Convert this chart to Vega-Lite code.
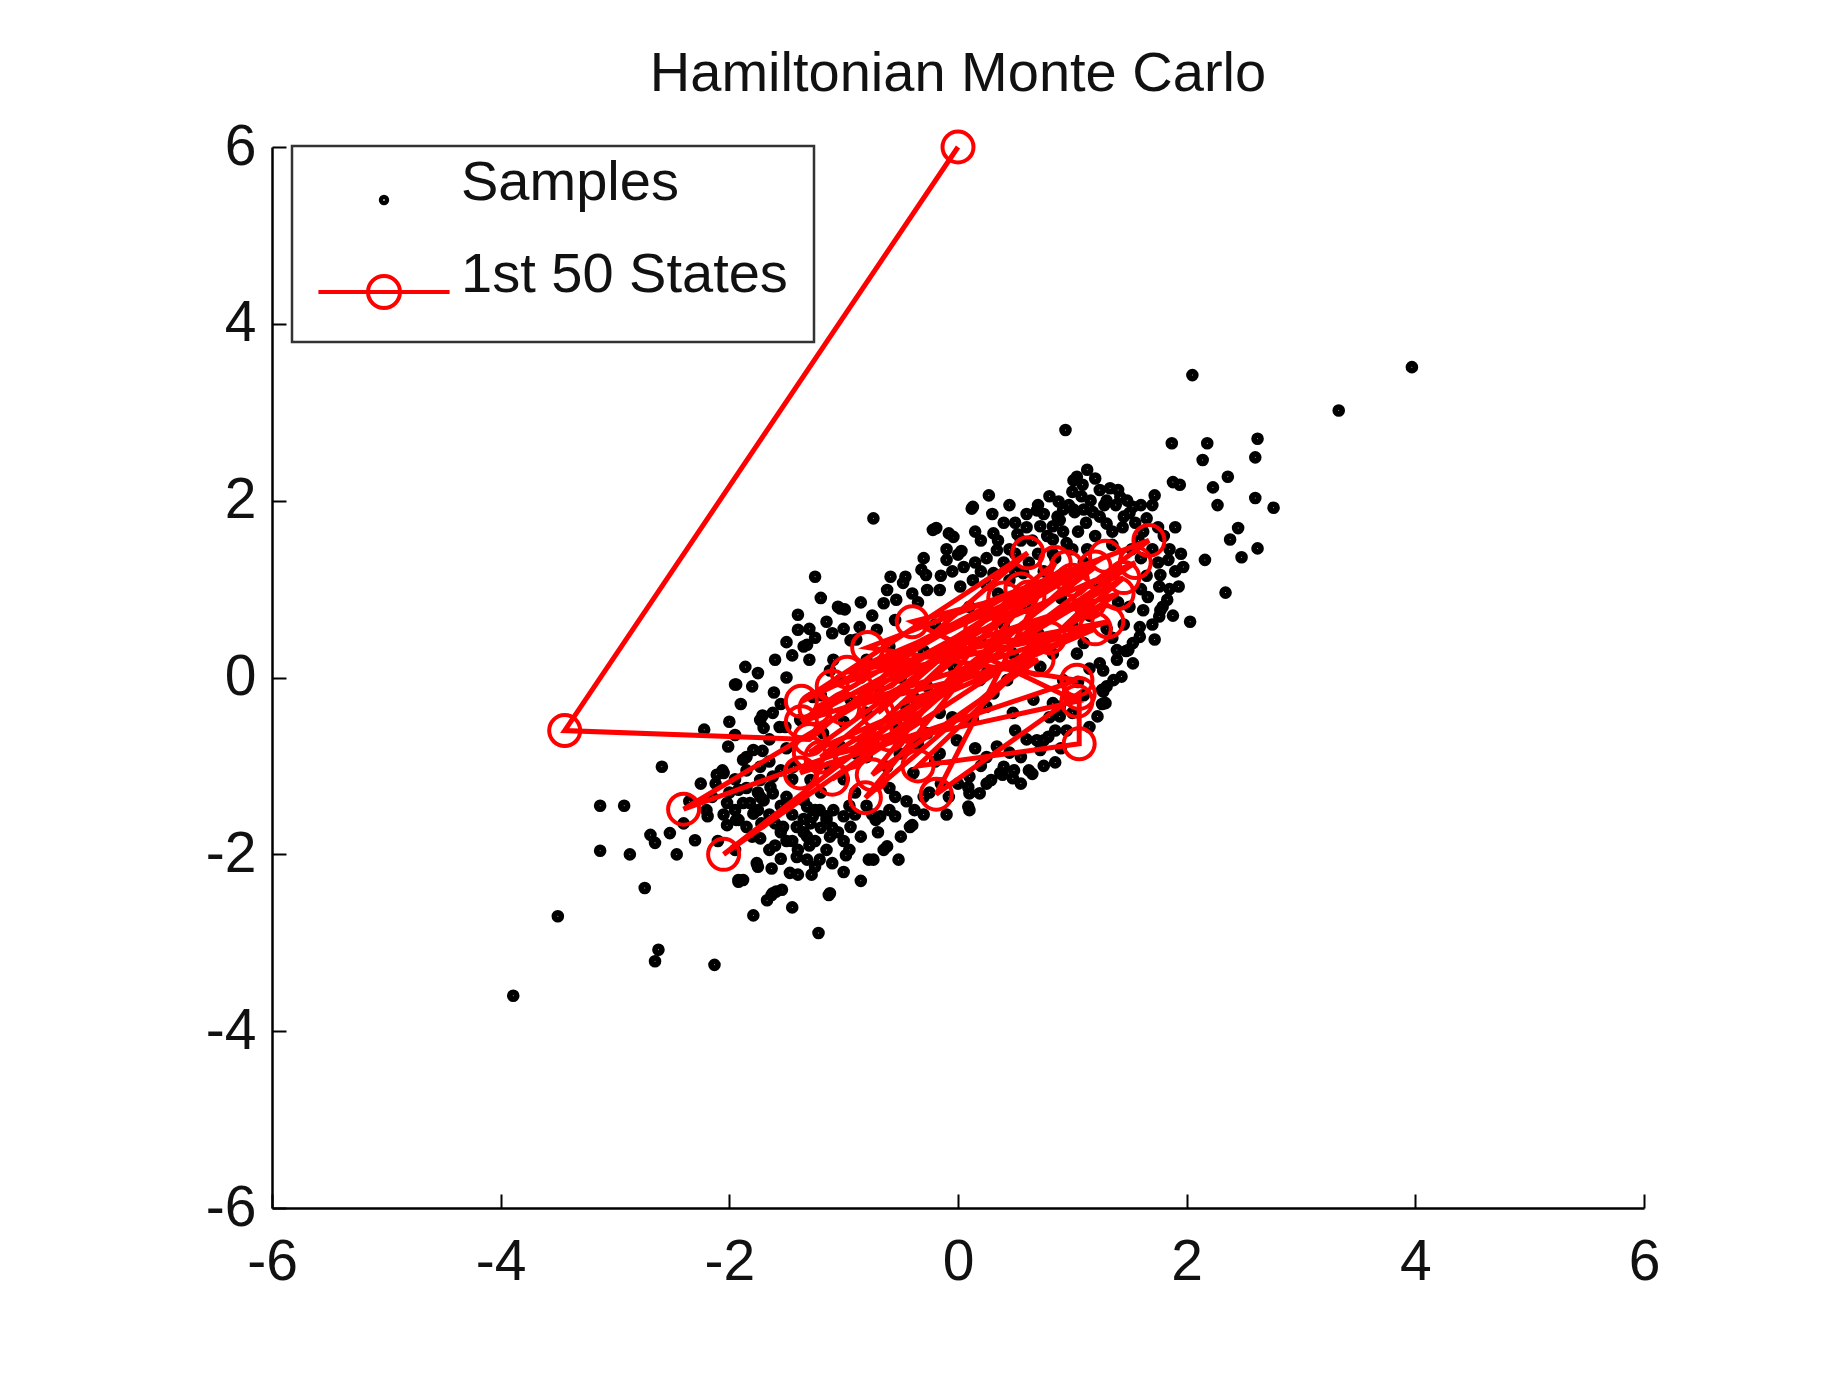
{
  "$schema": "https://vega.github.io/schema/vega-lite/v6.json",
  "width": 1372,
  "height": 1061,
  "autosize": {"type": "none"},
  "padding": {"left": 272, "top": 147, "right": 195, "bottom": 186},
  "background": "#ffffff",
  "title": {
    "text": "Hamiltonian Monte Carlo",
    "font": "Liberation Sans",
    "fontSize": 56,
    "fontWeight": "normal",
    "color": "#111111",
    "anchor": "middle",
    "frame": "group",
    "baseline": "bottom",
    "offset": -41
  },
  "config": {
    "view": {"stroke": null},
    "axis": {
      "grid": false,
      "title": null,
      "domainColor": "#000000",
      "domainWidth": 2.5,
      "tickColor": "#000000",
      "tickWidth": 2,
      "tickSize": -14,
      "labelFont": "Liberation Sans",
      "labelFontSize": 57,
      "labelColor": "#111111",
      "labelFlush": false,
      "labelOverlap": false,
      "labelExpr": "'' + datum.value"
    },
    "legend": {"strokeWidth": 2.5}
  },
  "datasets": {
    "samples": [
      {"x":-3.89,"y":-3.6},{"x":-3.5,"y":-2.7},{"x":-3.13,"y":-1.45},{"x":-2.92,"y":-1.45},{"x":-3.13,"y":-1.96},
      {"x":-2.87,"y":-2.0},{"x":-2.74,"y":-2.38},{"x":-2.62,"y":-3.08},{"x":-2.65,"y":-3.21},{"x":-2.13,"y":-3.25},
      {"x":-1.22,"y":-2.89},{"x":-1.13,"y":-2.46},{"x":-1.79,"y":-2.69},{"x":-2.59,"y":-1.01},{"x":-2.22,"y":-0.59},
      {"x":-1.95,"y":-0.08},{"x":-1.86,"y":0.12},{"x":-1.4,"y":0.71},{"x":-1.4,"y":0.54},{"x":-1.32,"y":0.37},
      {"x":-1.25,"y":1.14},{"x":-1.03,"y":0.78},{"x":-0.74,"y":1.8},{"x":-0.19,"y":1.69},{"x":-0.04,"y":1.59},
      {"x":0.12,"y":1.91},{"x":0.27,"y":2.06},{"x":0.31,"y":1.63},{"x":0.34,"y":1.44},{"x":-0.1,"y":1.33},
      {"x":0.0,"y":1.39},{"x":-0.32,"y":1.22},{"x":-0.46,"y":1.14},{"x":-0.59,"y":1.14},{"x":0.94,"y":2.8},
      {"x":2.05,"y":3.42},{"x":3.33,"y":3.02},{"x":3.97,"y":3.51},{"x":1.87,"y":2.65},{"x":2.18,"y":2.65},
      {"x":2.62,"y":2.7},{"x":2.14,"y":2.46},{"x":2.6,"y":2.49},{"x":1.88,"y":2.21},{"x":1.94,"y":2.18},
      {"x":2.36,"y":2.27},{"x":2.23,"y":2.15},{"x":1.72,"y":2.06},{"x":2.27,"y":1.95},{"x":2.6,"y":2.03},
      {"x":2.76,"y":1.92},{"x":2.45,"y":1.69},{"x":2.38,"y":1.56},{"x":2.62,"y":1.46},{"x":2.48,"y":1.36},
      {"x":2.16,"y":1.33},{"x":1.97,"y":1.25},{"x":1.84,"y":1.33},{"x":2.34,"y":0.96},{"x":2.03,"y":0.63},
      {"x":1.13,"y":2.35},{"x":1.04,"y":2.27},{"x":1.09,"y":2.18},{"x":1.24,"y":2.12},{"x":1.33,"y":2.14},
      {"x":1.4,"y":2.12},{"x":1.42,"y":2.04},{"x":1.53,"y":1.93},{"x":1.5,"y":1.86},{"x":0.88,"y":1.99},
      {"x":0.6,"y":1.85},{"x":0.69,"y":1.89},{"x":1.02,"y":1.87},{"x":0.87,"y":1.82},{"x":1.18,"y":1.87},
      {"x":1.24,"y":1.82},{"x":1.83,"y":0.88},{"x":1.77,"y":0.76},{"x":1.62,"y":0.76},{"x":1.59,"y":0.57},
      {"x":1.53,"y":0.39},{"x":1.39,"y":0.2},{"x":1.27,"y":0.08},{"x":1.27,"y":-0.16},{"x":1.01,"y":2.23},
      {"x":1.01,"y":1.9},{"x":0.83,"y":1.71},{"x":1.3,"y":1.74},{"x":1.45,"y":1.82},{"x":0.83,"y":1.4},
      {"x":0.95,"y":1.52},{"x":0.75,"y":-0.71},{"x":1.24,"y":0.16},{"x":1.3,"y":-0.1},{"x":1.04,"y":0.27},
      {"x":1.1,"y":0.39},{"x":1.39,"y":0.31},{"x":0.89,"y":-0.44},{"x":0.83,"y":-0.29},{"x":1.76,"y":1.03},
      {"x":1.66,"y":0.91},{"x":1.79,"y":0.8},{"x":1.76,"y":0.69},{"x":1.59,"y":0.46},{"x":1.49,"y":0.31},
      {"x":1.53,"y":0.16},{"x":1.43,"y":0.01},{"x":1.26,"y":-0.14},{"x":1.29,"y":-0.29},{"x":1.22,"y":-0.44},
      {"x":0.79,"y":-0.67},{"x":0.72,"y":-0.82},{"x":0.69,"y":-0.71},{"x":0.62,"y":-1.05},{"x":0.49,"y":-1.05},
      {"x":0.39,"y":-1.1},{"x":0.29,"y":-1.16},{"x":0.09,"y":-1.24},{"x":0.09,"y":-1.46},{"x":-0.08,"y":-1.35},
      {"x":-0.38,"y":-1.5},{"x":-0.42,"y":-1.69},{"x":-0.55,"y":-1.57},{"x":-0.72,"y":-1.61},{"x":-0.52,"y":-2.06},
      {"x":-0.65,"y":-1.95},{"x":-0.78,"y":-2.06},{"x":-0.98,"y":-2.01},{"x":-1.12,"y":-2.44},{"x":-1.62,"y":-2.44},
      {"x":-1.75,"y":-2.14},{"x":-1.92,"y":-2.29},{"x":-1.25,"y":-1.5},{"x":-1.15,"y":-1.57},{"x":-1.29,"y":-1.65},
      {"x":-2.06,"y":-1.05},{"x":-2.12,"y":-1.2},{"x":-1.92,"y":-1.27},{"x":-1.82,"y":-1.42},{"x":-2.02,"y":-1.42},
      {"x":-2.19,"y":-1.57},{"x":-1.92,"y":-1.61},{"x":-1.72,"y":-1.65},{"x":-0.08,"y":1.63},{"x":-0.22,"y":1.67},
      {"x":-1.05,"y":0.8},{"x":-1.35,"y":0.35},{"x":-1.94,"y":-0.08},{"x":0.48,"y":-1.14},{"x":0.37,"y":-1.08},
      {"x":0.1,"y":-1.31},{"x":0.1,"y":-1.5},{"x":-0.4,"y":-1.67},{"x":-0.62,"y":-1.91},{"x":-0.74,"y":-2.06},
      {"x":-0.68,"y":-1.57},{"x":-0.94,"y":-1.69},{"x":-1.12,"y":-1.8},{"x":-1.32,"y":-1.8},{"x":-1.41,"y":-1.69},
      {"x":-1.53,"y":-1.69},{"x":-1.32,"y":-1.46},{"x":-1.21,"y":-1.5},{"x":-1.09,"y":-1.5},{"x":-1.0,"y":-1.57},
      {"x":-1.15,"y":-1.61},{"x":-1.27,"y":-1.57},{"x":-1.35,"y":-1.39},{"x":-1.21,"y":-2.06},{"x":-1.32,"y":-2.06},
      {"x":-1.25,"y":-2.14},{"x":-1.4,"y":-2.23},{"x":-1.28,"y":-2.23},{"x":-1.63,"y":-2.16},{"x":-1.76,"y":-2.1},
      {"x":-1.59,"y":-2.42},{"x":-1.67,"y":-2.52},{"x":-1.54,"y":-2.4},{"x":-1.88,"y":-2.29},{"x":-1.7,"y":-0.57},
      {"x":-2.01,"y":-0.78},{"x":-2.05,"y":-1.08},{"x":-2.11,"y":-1.1},{"x":-1.88,"y":-0.93},{"x":-1.79,"y":-0.82},
      {"x":-2.69,"y":-1.78},{"x":-2.65,"y":-1.87},{"x":-2.52,"y":-1.76},{"x":-2.3,"y":-1.84},{"x":-2.2,"y":-1.5},
      {"x":-2.46,"y":-2.0},{"x":-1.92,"y":-2.31},{"x":-1.63,"y":-2.46},{"x":-1.85,"y":-1.69},{"x":-1.73,"y":-1.82},
      {"x":-1.79,"y":-1.54},{"x":-1.88,"y":-1.42},{"x":-1.7,"y":-1.39},{"x":-1.62,"y":-1.31},{"x":-1.94,"y":-1.61},
      {"x":-2.02,"y":-1.67},{"x":-1.73,"y":-1.16},{"x":-1.64,"y":-1.24},{"x":-1.62,"y":-1.12},{"x":-1.47,"y":-2.21},
      {"x":-1.41,"y":-2.03},{"x":-0.86,"y":0.57},{"x":-0.71,"y":0.54},{"x":-0.62,"y":0.99},{"x":-0.54,"y":0.88},
      {"x":-0.65,"y":0.84},{"x":-0.27,"y":0.99},{"x":-0.16,"y":0.99},{"x":0.02,"y":1.03},{"x":0.13,"y":1.1},
      {"x":-1.09,"y":0.2},{"x":-1.03,"y":-0.03},{"x":-1.12,"y":0.08},{"x":0.72,"y":1.71},{"x":0.89,"y":1.78},
      {"x":0.83,"y":1.56},{"x":0.31,"y":1.18},{"x":0.45,"y":1.1},{"x":0.57,"y":1.18},{"x":-1.73,"y":-0.48},
      {"x":-1.62,"y":-0.4},{"x":-1.56,"y":-0.56},{"x":-1.85,"y":-0.9},{"x":-1.73,"y":-1.01},{"x":-1.73,"y":-1.35},
      {"x":0.4,"y":-1.01},{"x":0.34,"y":-0.78},{"x":0.1,"y":-1.12},{"x":0.19,"y":-1.31},
      {"x":-0.94,"y":-0.25},{"x":-0.8,"y":-0.4},{"x":-0.65,"y":-0.25},{"x":-0.54,"y":-0.52},{"x":-0.39,"y":-0.22},
      {"x":-0.27,"y":-0.1},{"x":-0.16,"y":-0.4},{"x":-0.04,"y":0.12},{"x":0.13,"y":0.12},{"x":0.19,"y":-0.03},
      {"x":0.31,"y":-0.18},{"x":0.43,"y":-0.03},{"x":0.48,"y":0.27},{"x":0.63,"y":0.42},{"x":0.72,"y":0.12},
      {"x":0.83,"y":0.27},{"x":0.92,"y":-0.03},{"x":0.89,"y":-0.33},{"x":-1.15,"y":-0.37},{"x":-1.18,"y":-0.63},
      {"x":-1.03,"y":-0.78},{"x":-0.89,"y":-0.86},{"x":-0.74,"y":-0.71},{"x":-0.62,"y":-1.01},{"x":-0.51,"y":-0.86},
      {"x":-0.39,"y":-1.08},{"x":-0.27,"y":-0.63},{"x":-0.16,"y":-0.86},{"x":-0.01,"y":-0.71},{"x":0.13,"y":-0.48},
      {"x":0.25,"y":-0.33},{"x":0.48,"y":-0.4},{"x":0.66,"y":-0.25},{"x":-1.38,"y":-0.48},{"x":-1.27,"y":-0.22},
      {"x":-0.94,"y":0.42},{"x":-0.8,"y":0.2},{"x":-1.12,"y":-1.01},{"x":-1.29,"y":-1.16},{"x":-1.44,"y":-1.01},
      {"x":0.0,"y":0.3},{"x":0.2,"y":0.4},{"x":-0.3,"y":0.3},{"x":-0.5,"y":0.0},{"x":-0.7,"y":-0.1},
      {"x":0.4,"y":0.6},{"x":0.6,"y":0.8},{"x":0.9,"y":0.9},{"x":1.0,"y":0.6},{"x":0.7,"y":0.5},
      {"x":-0.2,"y":0.6},{"x":0.1,"y":0.8},{"x":-1.0,"y":-0.5},{"x":-0.8,"y":-0.9},{"x":-0.45,"y":-0.35},
      {"x":0.25,"y":0.05},{"x":-0.05,"y":-0.45},{"x":0.55,"y":0.95},{"x":0.75,"y":1.2},{"x":1.1,"y":1.3},
      {"x":0.35,"y":0.95},{"x":-0.35,"y":-0.75},{"x":-0.6,"y":-1.25},{"x":-1.0,"y":-1.15},{"x":-1.3,"y":-1.0},
      {"x":-0.9,"y":-1.3},{"x":-0.2,"y":-0.95},{"x":0.15,"y":-0.8},{"x":0.5,"y":-0.6},{"x":-1.5,"y":-0.8},
      {"x":-1.45,"y":-1.15},{"x":1.15,"y":0.7},{"x":1.2,"y":1.05},{"x":0.95,"y":1.15},{"x":0.85,"y":1.35},
      {"x":0.5,"y":1.4},{"x":0.25,"y":0.75},{"x":-0.6,"y":0.35},{"x":-0.85,"y":0.0},{"x":-1.2,"y":-0.2},
      {"x":-0.48,"y":1.07},{"x":-0.28,"y":1.16},{"x":0.13,"y":1.93},{"x":0.03,"y":1.43},{"x":-0.99,"y":0.77},
      {"x":-1.15,"y":0.63},{"x":-0.89,"y":0.43},{"x":-1.61,"y":-0.17},{"x":-1.71,"y":-0.43},{"x":-1.51,"y":-0.56},
      {"x":-1.71,"y":-0.83},{"x":1.72,"y":0.43},{"x":1.88,"y":0.7},{"x":1.93,"y":1.03},{"x":1.77,"y":1.16},
      {"x":1.47,"y":0.3},{"x":1.36,"y":-0.03},{"x":1.26,"y":-0.3},{"x":1.15,"y":-0.56},{"x":0.85,"y":-0.96},
      {"x":0.65,"y":-1.09},
      {"x":0.3,"y":1.85},{"x":0.4,"y":1.75},{"x":0.45,"y":1.95},{"x":0.52,"y":1.62},{"x":0.6,"y":1.7},
      {"x":0.65,"y":1.55},{"x":0.7,"y":1.95},{"x":0.75,"y":1.85},{"x":0.78,"y":1.6},{"x":0.8,"y":2.05},
      {"x":0.92,"y":1.65},{"x":0.97,"y":1.95},{"x":1.05,"y":1.65},{"x":1.08,"y":2.05},{"x":1.12,"y":1.75},
      {"x":1.16,"y":2.0},{"x":1.2,"y":1.6},{"x":1.28,"y":1.95},{"x":1.35,"y":1.65},{"x":1.38,"y":1.95},
      {"x":1.44,"y":1.7},{"x":1.55,"y":1.75},{"x":1.58,"y":1.55},{"x":1.65,"y":1.8},{"x":1.7,"y":1.45},
      {"x":0.2,"y":1.55},{"x":0.15,"y":1.3},{"x":0.4,"y":1.3},{"x":0.5,"y":1.2},{"x":0.62,"y":1.3},
      {"x":0.7,"y":1.4},{"x":1.0,"y":1.45},{"x":1.13,"y":1.45},{"x":1.8,"y":1.6},{"x":1.85,"y":1.45},
      {"x":1.6,"y":1.35},{"x":1.75,"y":1.3},{"x":1.9,"y":1.2},{"x":-0.05,"y":1.2},{"x":-0.4,"y":0.95},
      {"x":-0.15,"y":1.15},{"x":0.25,"y":1.35},
      {"x":-2.0,"y":-1.3},{"x":-1.95,"y":-1.5},{"x":-1.85,"y":-1.25},{"x":-1.8,"y":-1.8},{"x":-1.65,"y":-1.55},
      {"x":-1.6,"y":-1.9},{"x":-1.55,"y":-1.45},{"x":-1.5,"y":-1.85},{"x":-1.45,"y":-1.55},{"x":-1.4,"y":-1.95},
      {"x":-1.35,"y":-1.6},{"x":-1.3,"y":-1.9},{"x":-1.2,"y":-1.7},{"x":-1.15,"y":-1.95},{"x":-1.05,"y":-1.75},
      {"x":-1.0,"y":-1.85},{"x":-0.9,"y":-1.55},{"x":-0.85,"y":-1.8},{"x":-0.8,"y":-1.45},{"x":-0.7,"y":-1.75},
      {"x":-0.6,"y":-1.5},{"x":-0.5,"y":-1.8},{"x":-0.45,"y":-1.4},{"x":-0.3,"y":-1.55},{"x":-0.25,"y":-1.3},
      {"x":-0.1,"y":-1.55},{"x":0.0,"y":-1.2},{"x":0.2,"y":-1.0},{"x":0.25,"y":-0.9},{"x":0.45,"y":-0.85},
      {"x":0.55,"y":-0.9},{"x":0.6,"y":-0.7},{"x":-1.0,"y":-2.2},{"x":-0.85,"y":-2.3},{"x":-1.45,"y":-2.6},
      {"x":-1.1,"y":-2.1},{"x":-2.1,"y":-1.85},{"x":-2.35,"y":-1.4},{"x":-2.25,"y":-1.2},{"x":-2.4,"y":-1.65},
      {"x":-1.55,"y":-2.05},{"x":-1.95,"y":-1.95},
      {"x":-1.9,"y":-0.3},{"x":-1.8,"y":-0.1},{"x":-1.75,"y":0.05},{"x":-1.6,"y":0.2},{"x":-1.5,"y":0.0},
      {"x":-1.5,"y":0.4},{"x":-1.3,"y":0.55},{"x":-1.2,"y":0.9},{"x":-1.55,"y":-0.3},{"x":-1.45,"y":0.25},
      {"x":-1.65,"y":-0.7},{"x":-2.0,"y":-0.5},{"x":-1.95,"y":-0.65},
      {"x":1.35,"y":0.45},{"x":1.45,"y":0.6},{"x":1.5,"y":0.8},{"x":1.6,"y":1.0},{"x":1.65,"y":1.15},
      {"x":1.4,"y":0.85},{"x":1.3,"y":0.55},{"x":1.15,"y":0.1},{"x":1.05,"y":-0.05},{"x":1.0,"y":-0.4},
      {"x":0.95,"y":-0.6},{"x":1.1,"y":-0.2},{"x":0.9,"y":-0.8},{"x":1.7,"y":0.6},{"x":1.85,"y":1.0},
      {"x":0.05,"y":1.25},{"x":0.2,"y":1.2},{"x":0.35,"y":1.55},{"x":0.45,"y":1.45},{"x":0.55,"y":1.55},
      {"x":0.15,"y":1.65},{"x":0.5,"y":1.75},{"x":-0.3,"y":1.35},{"x":-0.1,"y":1.45},{"x":0.25,"y":1.05},
      {"x":1.2,"y":2.25},{"x":1.3,"y":2.0},{"x":1.48,"y":2.0},{"x":1.6,"y":1.95},{"x":1.62,"y":1.65},
      {"x":1.75,"y":1.7},{"x":1.7,"y":1.95},{"x":1.9,"y":1.7},{"x":1.95,"y":1.4},{"x":1.35,"y":1.5},
      {"x":1.52,"y":1.45},{"x":1.0,"y":2.1},{"x":0.92,"y":1.9},{"x":1.1,"y":1.9},
      {"x":-1.95,"y":-1.15},{"x":-1.75,"y":-1.5},{"x":-1.6,"y":-1.65},{"x":-1.5,"y":-1.35},{"x":-1.55,"y":-1.75},
      {"x":-1.35,"y":-1.75},{"x":-1.25,"y":-1.85},{"x":-1.1,"y":-1.7},{"x":-0.95,"y":-1.95},{"x":-1.45,"y":-1.85},
      {"x":-1.65,"y":-1.95},{"x":-1.75,"y":-1.3},{"x":-2.15,"y":-1.35},{"x":-2.05,"y":-1.55},{"x":-1.85,"y":-1.05},
      {"x":-1.65,"y":-0.95},{"x":-1.55,"y":-1.05},{"x":-1.2,"y":-1.3},{"x":-0.95,"y":-1.45},{"x":-0.75,"y":-1.55},
      {"x":-0.55,"y":-1.35},{"x":-0.3,"y":-1.35},{"x":-0.15,"y":-1.2},{"x":0.25,"y":-1.2},{"x":0.55,"y":-1.2},
      {"x":0.75,"y":-1.0},{"x":0.85,"y":-0.6},{"x":0.8,"y":-0.45},
      {"x":-1.25,"y":0.45},{"x":-1.1,"y":0.5},{"x":-1.0,"y":0.55},{"x":-0.75,"y":0.7},{"x":-0.55,"y":0.65},
      {"x":-1.3,"y":0.2},{"x":-0.85,"y":0.85},{"x":-0.35,"y":0.85}
    ],
    "states": [
      {"step":1,"x":0.0,"y":6.0},{"step":2,"x":-3.44,"y":-0.6},{"step":3,"x":-1.3,"y":-0.7},
      {"step":4,"x":0.61,"y":1.41},{"step":5,"x":-1.37,"y":-0.27},{"step":6,"x":1.29,"y":1.37},
      {"step":7,"x":-2.4,"y":-1.49},{"step":8,"x":-0.6,"y":-0.65},{"step":9,"x":1.67,"y":1.55},
      {"step":10,"x":-0.79,"y":0.34},{"step":11,"x":1.04,"y":-0.03},{"step":12,"x":-1.38,"y":-1.08},
      {"step":13,"x":1.45,"y":1.13},{"step":14,"x":-0.81,"y":-1.36},{"step":15,"x":0.62,"y":0.91},
      {"step":16,"x":-1.37,"y":-0.5},{"step":17,"x":1.31,"y":0.63},{"step":18,"x":-0.97,"y":0.06},
      {"step":19,"x":1.2,"y":1.25},{"step":20,"x":-2.05,"y":-2.0},{"step":21,"x":-0.45,"y":-0.55},
      {"step":22,"x":1.0,"y":1.1},{"step":23,"x":-0.4,"y":0.63},{"step":24,"x":1.04,"y":-0.27},
      {"step":25,"x":-1.2,"y":-0.9},{"step":26,"x":0.85,"y":1.3},{"step":27,"x":-0.19,"y":-1.32},
      {"step":28,"x":1.06,"y":-0.18},{"step":29,"x":1.06,"y":-0.75},{"step":30,"x":-0.35,"y":-1.0},
      {"step":31,"x":1.15,"y":0.85},{"step":32,"x":-1.25,"y":-0.35},{"step":33,"x":0.4,"y":0.9},
      {"step":34,"x":-1.1,"y":-0.1},{"step":35,"x":1.4,"y":0.95},{"step":36,"x":-1.1,"y":-1.15},
      {"step":37,"x":0.8,"y":0.45},{"step":38,"x":-0.65,"y":0.05},{"step":39,"x":1.55,"y":1.3},
      {"step":40,"x":-0.95,"y":-0.85},{"step":41,"x":0.2,"y":0.55},{"step":42,"x":-1.3,"y":-0.85},
      {"step":43,"x":1.2,"y":0.55},{"step":44,"x":-0.5,"y":-0.3},{"step":45,"x":0.95,"y":1.25},
      {"step":46,"x":-1.0,"y":-0.35},{"step":47,"x":0.7,"y":0.2},{"step":48,"x":-0.75,"y":-1.1},
      {"step":49,"x":0.55,"y":1.0},{"step":50,"x":-0.7,"y":-0.4}
    ]
  },
  "encoding": {
    "x": {
      "field": "x", "type": "quantitative",
      "scale": {"domain": [-6, 6], "nice": false, "zero": false},
      "axis": {"values": [-6, -4, -2, 0, 2, 4, 6], "labelPadding": 40}
    },
    "y": {
      "field": "y", "type": "quantitative",
      "scale": {"domain": [-6, 6], "nice": false, "zero": false},
      "axis": {"values": [-6, -4, -2, 0, 2, 4, 6], "labelPadding": 30}
    }
  },
  "layer": [
    {
      "data": {"name": "samples"},
      "mark": {"type": "point", "filled": false, "size": 1850, "strokeWidth": 4, "opacity": 1},
      "encoding": {
        "color": {
          "datum": "Samples", "type": "nominal",
          "scale": {"domain": ["Samples", "1st 50 States"], "range": ["#000000", "#ff0000"]},
          "legend": {
            "title": null,
            "orient": "none",
            "legendX": 20,
            "legendY": -1,
            "padding": 26,
            "strokeColor": "#333333",
            "fillColor": "#ffffff",
            "symbolSize": 1024,
            "symbolStrokeWidth": 4,
            "symbolOffset": 38,
            "labelFont": "Liberation Sans",
            "labelFontSize": 56,
            "labelColor": "#111111",
            "labelBaseline": "alphabetic",
            "labelOffset": 49,
            "rowPadding": 35,
            "labelLimit": 600
          }
        },
        "shape": {
          "datum": "Samples", "type": "nominal",
          "scale": {
            "domain": ["Samples", "1st 50 States"],
            "range": [
              "M-0.2,0 A0.2,0.2 0 1,1 0.2,0 A0.2,0.2 0 1,1 -0.2,0 M-0.07,0 A0.07,0.07 0 1,1 0.07,0 A0.07,0.07 0 1,1 -0.07,0",
              "M-4.1,0 L4.1,0 M-1,0 A1,1 0 1,1 1,0 A1,1 0 1,1 -1,0"
            ]
          },
          "legend": {"title": null}
        }
      }
    },
    {
      "data": {"name": "states"},
      "mark": {"type": "line", "strokeWidth": 5},
      "encoding": {
        "order": {"field": "step", "type": "quantitative"},
        "color": {"datum": "1st 50 States", "type": "nominal", "legend": null}
      }
    },
    {
      "data": {"name": "states"},
      "mark": {"type": "point", "filled": false, "shape": "circle", "size": 961, "strokeWidth": 4, "opacity": 1},
      "encoding": {
        "color": {"datum": "1st 50 States", "type": "nominal"}
      }
    }
  ]
}
